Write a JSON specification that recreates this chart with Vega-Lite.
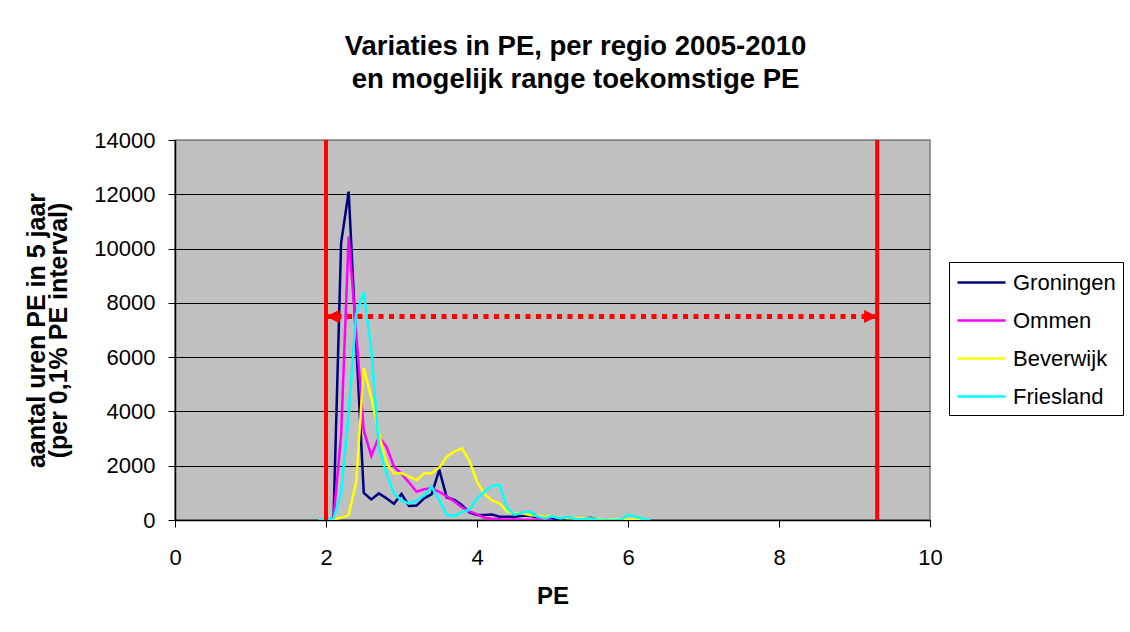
{
  "$schema": "https://vega.github.io/schema/vega-lite/v6.json",
  "width": 755,
  "height": 380,
  "autosize": "none",
  "padding": {"left": 175, "top": 140, "right": 200, "bottom": 112},
  "background": "white",
  "title": {
    "text": ["Variaties in PE, per regio 2005-2010", "en mogelijk range toekomstige PE"],
    "fontSize": 27.5,
    "fontWeight": "bold",
    "font": "Liberation Sans",
    "color": "black",
    "anchor": "middle",
    "offset": 36,
    "dx": 23,
    "lineHeight": 33
  },
  "config": {
    "view": {"fill": "#C0C0C0", "stroke": "#808080", "strokeWidth": 1.5},
    "font": "Liberation Sans",
    "axis": {
      "domainColor": "black",
      "domainWidth": 1.5,
      "tickColor": "black",
      "tickSize": 7,
      "labelColor": "black",
      "labelFont": "Liberation Sans",
      "labelFontSize": 22,
      "labelFlush": false,
      "titleColor": "black",
      "titleFont": "Liberation Sans",
      "titleFontSize": 24,
      "titleFontWeight": "bold"
    },
    "legend": {
      "orient": "none",
      "legendX": 774,
      "legendY": 122,
      "strokeColor": "black",
      "fillColor": "white",
      "padding": 7,
      "labelFont": "Liberation Sans",
      "labelFontSize": 22,
      "labelColor": "black",
      "labelOffset": 30,
      "labelLimit": 300,
      "symbolType": "M-1,0L3,0",
      "symbolSize": 576,
      "symbolStrokeWidth": 2.5,
      "rowPadding": 13
    }
  },
  "datasets": {
    "pe": [
      {"s": "Groningen", "pe": 2.0, "v": 0},
      {"s": "Groningen", "pe": 2.1, "v": 60},
      {"s": "Groningen", "pe": 2.2, "v": 10200},
      {"s": "Groningen", "pe": 2.3, "v": 12100},
      {"s": "Groningen", "pe": 2.4, "v": 6500},
      {"s": "Groningen", "pe": 2.5, "v": 1000},
      {"s": "Groningen", "pe": 2.6, "v": 760},
      {"s": "Groningen", "pe": 2.7, "v": 980},
      {"s": "Groningen", "pe": 2.8, "v": 800},
      {"s": "Groningen", "pe": 2.9, "v": 600},
      {"s": "Groningen", "pe": 3.0, "v": 960},
      {"s": "Groningen", "pe": 3.1, "v": 520},
      {"s": "Groningen", "pe": 3.2, "v": 530},
      {"s": "Groningen", "pe": 3.3, "v": 800},
      {"s": "Groningen", "pe": 3.4, "v": 950},
      {"s": "Groningen", "pe": 3.5, "v": 1850},
      {"s": "Groningen", "pe": 3.6, "v": 830},
      {"s": "Groningen", "pe": 3.7, "v": 740},
      {"s": "Groningen", "pe": 3.8, "v": 550},
      {"s": "Groningen", "pe": 3.9, "v": 280},
      {"s": "Groningen", "pe": 4.0, "v": 180},
      {"s": "Groningen", "pe": 4.1, "v": 180},
      {"s": "Groningen", "pe": 4.2, "v": 200},
      {"s": "Groningen", "pe": 4.3, "v": 120},
      {"s": "Groningen", "pe": 4.4, "v": 120},
      {"s": "Groningen", "pe": 4.5, "v": 120},
      {"s": "Groningen", "pe": 4.6, "v": 160},
      {"s": "Groningen", "pe": 4.7, "v": 160},
      {"s": "Groningen", "pe": 4.8, "v": 100},
      {"s": "Groningen", "pe": 4.9, "v": 60},
      {"s": "Groningen", "pe": 5.0, "v": 40},
      {"s": "Groningen", "pe": 5.1, "v": 40},
      {"s": "Groningen", "pe": 5.2, "v": 30},
      {"s": "Groningen", "pe": 5.3, "v": 30},
      {"s": "Groningen", "pe": 5.4, "v": 40},
      {"s": "Groningen", "pe": 5.5, "v": 80},
      {"s": "Groningen", "pe": 5.6, "v": 20},
      {"s": "Groningen", "pe": 5.7, "v": 0},
      {"s": "Ommen", "pe": 2.0, "v": 0},
      {"s": "Ommen", "pe": 2.1, "v": 60},
      {"s": "Ommen", "pe": 2.2, "v": 3130},
      {"s": "Ommen", "pe": 2.3, "v": 10440},
      {"s": "Ommen", "pe": 2.4, "v": 6900},
      {"s": "Ommen", "pe": 2.5, "v": 3300},
      {"s": "Ommen", "pe": 2.6, "v": 2360},
      {"s": "Ommen", "pe": 2.7, "v": 3070},
      {"s": "Ommen", "pe": 2.8, "v": 2700},
      {"s": "Ommen", "pe": 2.9, "v": 1970},
      {"s": "Ommen", "pe": 3.0, "v": 1700},
      {"s": "Ommen", "pe": 3.1, "v": 1380},
      {"s": "Ommen", "pe": 3.2, "v": 1040},
      {"s": "Ommen", "pe": 3.3, "v": 1130},
      {"s": "Ommen", "pe": 3.4, "v": 1170},
      {"s": "Ommen", "pe": 3.5, "v": 1040},
      {"s": "Ommen", "pe": 3.6, "v": 870},
      {"s": "Ommen", "pe": 3.7, "v": 680},
      {"s": "Ommen", "pe": 3.8, "v": 460},
      {"s": "Ommen", "pe": 3.9, "v": 320},
      {"s": "Ommen", "pe": 4.0, "v": 210},
      {"s": "Ommen", "pe": 4.1, "v": 80},
      {"s": "Ommen", "pe": 4.2, "v": 50},
      {"s": "Ommen", "pe": 4.3, "v": 30},
      {"s": "Ommen", "pe": 4.4, "v": 20},
      {"s": "Ommen", "pe": 4.5, "v": 20},
      {"s": "Ommen", "pe": 4.6, "v": 10},
      {"s": "Ommen", "pe": 4.7, "v": 10},
      {"s": "Ommen", "pe": 4.8, "v": 5},
      {"s": "Ommen", "pe": 4.9, "v": 5},
      {"s": "Ommen", "pe": 5.0, "v": 0},
      {"s": "Beverwijk", "pe": 2.0, "v": 0},
      {"s": "Beverwijk", "pe": 2.1, "v": 30},
      {"s": "Beverwijk", "pe": 2.2, "v": 80},
      {"s": "Beverwijk", "pe": 2.3, "v": 180},
      {"s": "Beverwijk", "pe": 2.4, "v": 1400},
      {"s": "Beverwijk", "pe": 2.5, "v": 5600},
      {"s": "Beverwijk", "pe": 2.6, "v": 4500},
      {"s": "Beverwijk", "pe": 2.7, "v": 3200},
      {"s": "Beverwijk", "pe": 2.8, "v": 2100},
      {"s": "Beverwijk", "pe": 2.9, "v": 1720},
      {"s": "Beverwijk", "pe": 3.0, "v": 1720},
      {"s": "Beverwijk", "pe": 3.1, "v": 1600},
      {"s": "Beverwijk", "pe": 3.2, "v": 1470},
      {"s": "Beverwijk", "pe": 3.3, "v": 1720},
      {"s": "Beverwijk", "pe": 3.4, "v": 1720},
      {"s": "Beverwijk", "pe": 3.5, "v": 1930},
      {"s": "Beverwijk", "pe": 3.6, "v": 2330},
      {"s": "Beverwijk", "pe": 3.7, "v": 2520},
      {"s": "Beverwijk", "pe": 3.8, "v": 2640},
      {"s": "Beverwijk", "pe": 3.9, "v": 2180},
      {"s": "Beverwijk", "pe": 4.0, "v": 1410},
      {"s": "Beverwijk", "pe": 4.1, "v": 950},
      {"s": "Beverwijk", "pe": 4.2, "v": 720},
      {"s": "Beverwijk", "pe": 4.3, "v": 610},
      {"s": "Beverwijk", "pe": 4.4, "v": 310},
      {"s": "Beverwijk", "pe": 4.5, "v": 245},
      {"s": "Beverwijk", "pe": 4.6, "v": 245},
      {"s": "Beverwijk", "pe": 4.7, "v": 185},
      {"s": "Beverwijk", "pe": 4.8, "v": 160},
      {"s": "Beverwijk", "pe": 4.9, "v": 125},
      {"s": "Beverwijk", "pe": 5.0, "v": 125},
      {"s": "Beverwijk", "pe": 5.1, "v": 85},
      {"s": "Beverwijk", "pe": 5.2, "v": 60},
      {"s": "Beverwijk", "pe": 5.3, "v": 60},
      {"s": "Beverwijk", "pe": 5.4, "v": 60},
      {"s": "Beverwijk", "pe": 5.5, "v": 50},
      {"s": "Beverwijk", "pe": 5.6, "v": 40},
      {"s": "Beverwijk", "pe": 5.7, "v": 30},
      {"s": "Beverwijk", "pe": 5.8, "v": 30},
      {"s": "Beverwijk", "pe": 5.9, "v": 20},
      {"s": "Beverwijk", "pe": 6.0, "v": 20},
      {"s": "Beverwijk", "pe": 6.1, "v": 20},
      {"s": "Beverwijk", "pe": 6.2, "v": 0},
      {"s": "Friesland", "pe": 1.9, "v": 0},
      {"s": "Friesland", "pe": 2.0, "v": 0},
      {"s": "Friesland", "pe": 2.1, "v": 60},
      {"s": "Friesland", "pe": 2.2, "v": 980},
      {"s": "Friesland", "pe": 2.3, "v": 3930},
      {"s": "Friesland", "pe": 2.4, "v": 7600},
      {"s": "Friesland", "pe": 2.5, "v": 8380},
      {"s": "Friesland", "pe": 2.6, "v": 6270},
      {"s": "Friesland", "pe": 2.7, "v": 2700},
      {"s": "Friesland", "pe": 2.8, "v": 1720},
      {"s": "Friesland", "pe": 2.9, "v": 980},
      {"s": "Friesland", "pe": 3.0, "v": 720},
      {"s": "Friesland", "pe": 3.1, "v": 600},
      {"s": "Friesland", "pe": 3.2, "v": 720},
      {"s": "Friesland", "pe": 3.3, "v": 900},
      {"s": "Friesland", "pe": 3.4, "v": 1230},
      {"s": "Friesland", "pe": 3.5, "v": 720},
      {"s": "Friesland", "pe": 3.6, "v": 184},
      {"s": "Friesland", "pe": 3.7, "v": 150},
      {"s": "Friesland", "pe": 3.8, "v": 290},
      {"s": "Friesland", "pe": 3.9, "v": 380},
      {"s": "Friesland", "pe": 4.0, "v": 780},
      {"s": "Friesland", "pe": 4.1, "v": 1040},
      {"s": "Friesland", "pe": 4.2, "v": 1250},
      {"s": "Friesland", "pe": 4.3, "v": 1290},
      {"s": "Friesland", "pe": 4.4, "v": 430},
      {"s": "Friesland", "pe": 4.5, "v": 190},
      {"s": "Friesland", "pe": 4.6, "v": 280},
      {"s": "Friesland", "pe": 4.7, "v": 310},
      {"s": "Friesland", "pe": 4.8, "v": 130},
      {"s": "Friesland", "pe": 4.9, "v": 60},
      {"s": "Friesland", "pe": 5.0, "v": 140},
      {"s": "Friesland", "pe": 5.1, "v": 60},
      {"s": "Friesland", "pe": 5.2, "v": 120},
      {"s": "Friesland", "pe": 5.3, "v": 30},
      {"s": "Friesland", "pe": 5.4, "v": 30},
      {"s": "Friesland", "pe": 5.5, "v": 60},
      {"s": "Friesland", "pe": 5.6, "v": 10},
      {"s": "Friesland", "pe": 5.7, "v": 0},
      {"s": "Friesland", "pe": 5.8, "v": 0},
      {"s": "Friesland", "pe": 5.9, "v": 0},
      {"s": "Friesland", "pe": 6.0, "v": 180},
      {"s": "Friesland", "pe": 6.1, "v": 130},
      {"s": "Friesland", "pe": 6.2, "v": 30},
      {"s": "Friesland", "pe": 6.3, "v": 0}
    ],
    "vlines": [{"x": 2.0}, {"x": 9.3}],
    "arrow": [{"x": 2.0, "x2": 9.3, "y": 7500}]
  },
  "layer": [
    {
      "data": {"name": "pe"},
      "mark": {"type": "line", "strokeWidth": 2.5, "clip": true},
      "encoding": {
        "x": {
          "field": "pe", "type": "quantitative", "title": "PE",
          "scale": {"domain": [0, 10], "nice": false},
          "axis": {"values": [0, 2, 4, 6, 8, 10], "format": "d", "grid": false, "labelPadding": 20, "titlePadding": 16}
        },
        "y": {
          "field": "v", "type": "quantitative",
          "title": ["aantal uren PE in 5 jaar", "(per 0,1% PE interval)"],
          "scale": {"domain": [0, 14000], "nice": false},
          "axis": {
            "values": [0, 2000, 4000, 6000, 8000, 10000, 12000, 14000],
            "format": "d",
            "grid": true,
            "gridColor": {"condition": {"test": "datum.value === 14000", "value": "#808080"}, "value": "black"},
            "gridWidth": 1,
            "labelPadding": 13,
            "titlePadding": 22,
            "titleFontSize": 25,
            "titleLineHeight": 22
          }
        },
        "color": {
          "field": "s", "type": "nominal",
          "scale": {"domain": ["Groningen", "Ommen", "Beverwijk", "Friesland"], "range": ["#000080", "#FF00FF", "#FFFF00", "#00FFFF"]},
          "legend": {"title": null}
        }
      }
    },
    {
      "data": {"name": "vlines"},
      "mark": {"type": "rule", "color": "#FF0000", "strokeWidth": 4},
      "encoding": {"x": {"field": "x", "type": "quantitative", "title": "PE"}}
    },
    {
      "data": {"name": "arrow"},
      "mark": {"type": "rule", "color": "#FF0000", "strokeWidth": 5, "strokeDash": [5, 5.5], "strokeCap": "butt"},
      "encoding": {
        "x": {"field": "x", "type": "quantitative", "title": "PE"},
        "x2": {"field": "x2"},
        "y": {"field": "y", "type": "quantitative", "title": ["aantal uren PE in 5 jaar", "(per 0,1% PE interval)"]}
      }
    },
    {
      "data": {"name": "arrow"},
      "mark": {"type": "point", "filled": true, "color": "#FF0000", "opacity": 1, "size": 676, "shape": "M0,0L1,-0.5L1,0.5Z"},
      "encoding": {
        "x": {"field": "x", "type": "quantitative", "title": "PE"},
        "y": {"field": "y", "type": "quantitative", "title": ["aantal uren PE in 5 jaar", "(per 0,1% PE interval)"]}
      }
    },
    {
      "data": {"name": "arrow"},
      "mark": {"type": "point", "filled": true, "color": "#FF0000", "opacity": 1, "size": 676, "shape": "M0,0L-1,-0.5L-1,0.5Z"},
      "encoding": {
        "x": {"field": "x2", "type": "quantitative", "title": "PE"},
        "y": {"field": "y", "type": "quantitative", "title": ["aantal uren PE in 5 jaar", "(per 0,1% PE interval)"]}
      }
    }
  ]
}
